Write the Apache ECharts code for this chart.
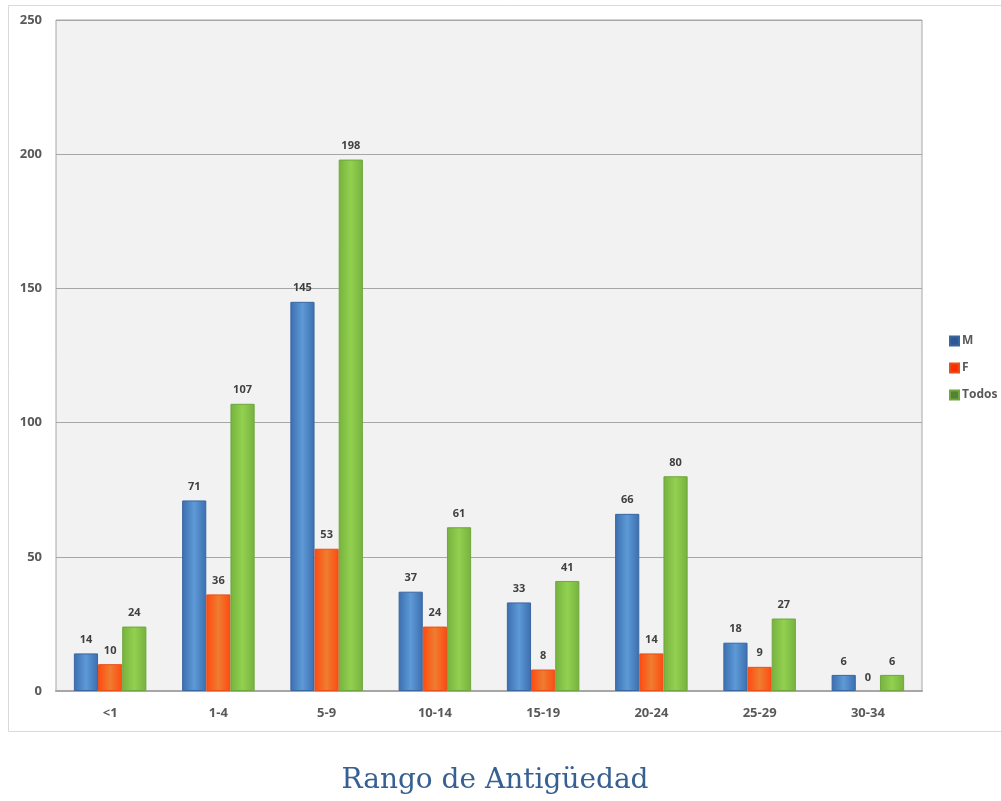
<!DOCTYPE html>
<html><head><meta charset="utf-8">
<script src="https://cdn.jsdelivr.net/npm/echarts@6/dist/echarts.min.js"></script>
<style>html,body{margin:0;padding:0;background:#fff}#c{width:1001px;height:801px}</style>
</head><body><div id="c"></div>
<script>
const categories = ['<1','1-4','5-9','10-14','15-19','20-24','25-29','30-34'];
const seriesNames = ['M','F','Todos'];
const valuesM = [14,71,145,37,33,66,18,6];
const valuesF = [10,36,53,24,8,14,9,0];
const valuesTodos = [24,107,198,61,41,80,27,6];
const yTicks = [0,50,100,150,200,250];

function grad(edge, center){
  return new echarts.graphic.LinearGradient(0,0,1,0,[
    {offset:0,color:edge},{offset:0.5,color:center},{offset:1,color:edge}]);
}
const barStyles = [
  {fill:grad('#3c6eb0','#5d9ad6'), border:'#3a66a0', legend:'#2f5597'},
  {fill:grad('#ff4a10','#ee7d31'), border:'#e8501a', legend:'#ff2a00'},
  {fill:grad('#76b23e','#92d050'), border:'#6fa63e', legend:'#548235'}
];
const dataSets = [valuesM, valuesF, valuesTodos];
const chart = echarts.init(document.getElementById('c'));
chart.setOption({
  animation:false,
  backgroundColor:'#fff',
  graphic:[{type:'rect',shape:{x:8.5,y:5.5,width:1000,height:726},style:{fill:'none',stroke:'#d9d9d9',lineWidth:1},z:-10}],
  title:{text:'Rango de Antigüedad',left:490,top:762,textAlign:'center',
    textStyle:{fontFamily:'DejaVu Serif',fontWeight:'normal',fontSize:28,color:'#376092'}},
  legend:{orient:'vertical',left:944,top:330,itemWidth:9,itemHeight:9,itemGap:15,icon:'rect',
    textStyle:{fontFamily:'Open Sans',fontWeight:'bold',fontSize:12,color:'#595959',padding:[0,0,0,-2]},
    data:seriesNames.map((n,i)=>({name:n,itemStyle:{color:barStyles[i].legend}}))},
  grid:{left:56,right:79,top:20,bottom:110,containLabel:false,show:true,backgroundColor:'#f2f2f2',borderColor:'#a6a6a6',borderWidth:1},
  xAxis:{type:'category',data:categories,
    axisLine:{lineStyle:{color:'#a6a6a6',width:2}},axisTick:{show:false},
    axisLabel:{fontFamily:'Open Sans',fontWeight:'bold',fontSize:13,color:'#595959',margin:16}},
  yAxis:{type:'value',min:0,max:250,interval:50,
    axisLine:{show:false},axisTick:{show:false},
    splitLine:{lineStyle:{color:'#a6a6a6',width:1}},
    axisLabel:{fontFamily:'Open Sans',fontWeight:'bold',fontSize:13,color:'#595959',margin:14,
      formatter:v=>yTicks.includes(v)?String(v):''}},
  series:dataSets.map((d,i)=>({
    name:seriesNames[i],type:'bar',
    data:d.map(v=>v===0?{value:v,itemStyle:{borderWidth:0}}:v),
    barGap:'0%',barCategoryGap:'33%',
    itemStyle:{color:barStyles[i].fill,borderColor:barStyles[i].border,borderWidth:1},
    label:{show:true,position:'top',distance:8,fontFamily:'Open Sans',fontWeight:'bold',fontSize:11,color:'#404040'}
  }))
});
</script></body></html>
